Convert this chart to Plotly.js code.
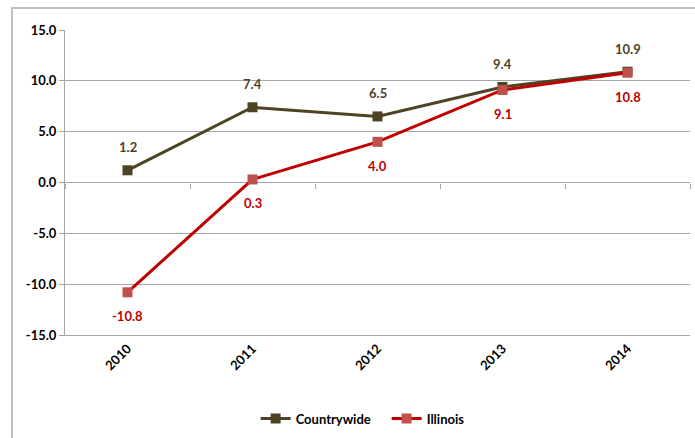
<!DOCTYPE html>
<html>
<head>
<meta charset="utf-8">
<script src="https://cdn.plot.ly/plotly-3.0.1.min.js"></script>
<style>
  html, body { margin: 0; padding: 0; background: #fff; }
  #wrap { position: relative; width: 695px; height: 438px; overflow: hidden; }
  #chart { width: 695px; height: 438px; }
  #frame { position: absolute; left: 11px; top: 7px; right: -5px; bottom: -5px;
           border-left: 2px solid #BFBFBF; border-top: 2px solid #BFBFBF; pointer-events: none; }
</style>
</head>
<body>
<div id="wrap">
  <div id="chart"></div>
  <div id="frame"></div>
</div>
<script>
const years = ['2010', '2011', '2012', '2013', '2014'];
const countrywide = [1.2, 7.4, 6.5, 9.4, 10.9];
const illinois = [-10.8, 0.3, 4.0, 9.1, 10.8];
const yTicks = [-15, -10, -5, 0, 5, 10, 15];

const FONT = 'Lato, "Liberation Sans", Arial, sans-serif';
const CW_COLOR = '#4F4325';
const IL_LINE = '#C00000';
const IL_MARK = '#C0504D';
const GRID = '#A6A6A6';

const traces = [
  {
    x: years, y: countrywide, name: 'Countrywide', type: 'scatter', mode: 'lines+markers',
    line: { color: CW_COLOR, width: 3 },
    marker: { symbol: 'square', size: 10, color: CW_COLOR },
    hoverinfo: 'skip'
  },
  {
    x: years, y: illinois, name: 'Illinois', type: 'scatter', mode: 'lines+markers',
    line: { color: IL_LINE, width: 3 },
    marker: { symbol: 'square', size: 10, color: IL_MARK },
    hoverinfo: 'skip'
  },
  {
    x: years, y: illinois, xaxis: 'x2', yaxis: 'y', type: 'scatter', mode: 'none',
    showlegend: false, hoverinfo: 'skip'
  }
];

const annotations = [];
for (let i = 0; i < years.length; i++) {
  annotations.push({
    x: i, y: countrywide[i], xref: 'x', yref: 'y', text: '<b>' + countrywide[i].toFixed(1) + '</b>',
    showarrow: false, yshift: 23,
    font: { family: FONT, size: 13, color: CW_COLOR }
  });
  annotations.push({
    x: i, y: illinois[i], xref: 'x', yref: 'y', text: '<b>' + illinois[i].toFixed(1) + '</b>',
    showarrow: false, yshift: -24,
    font: { family: FONT, size: 13, color: IL_LINE }
  });
}

const layout = {
  width: 695, height: 438,
  margin: { l: 65, r: 5, t: 30, b: 103, autoexpand: false },
  paper_bgcolor: '#fff', plot_bgcolor: '#fff',
  font: { family: FONT, size: 13, color: '#000' },
  showlegend: true,
  legend: {
    orientation: 'h', x: 0.305, xanchor: 'left', y: -0.225, yanchor: 'top',
    entrywidth: 86, entrywidthmode: 'pixels',
    font: { family: FONT, size: 13, color: '#000', weight: 'bold' }
  },
  xaxis: {
    type: 'category', categoryarray: years, range: [-0.5, 4.5],
    showgrid: false, zeroline: false, showline: true, linecolor: GRID, linewidth: 1,
    ticks: '', tickangle: -45,
    tickfont: { family: FONT, size: 13, color: '#000', weight: 'bold' }
  },
  xaxis2: {
    type: 'category', categoryarray: years, range: [-0.5, 4.5],
    overlaying: 'x', anchor: 'free', position: 0.5, side: 'bottom',
    showgrid: false, zeroline: false, showline: false,
    ticks: 'outside', tickson: 'boundaries', ticklen: 5, tickcolor: GRID, tickwidth: 1,
    showticklabels: false
  },
  yaxis: {
    range: [-15, 15], tickmode: 'array', tickvals: yTicks,
    ticktext: yTicks.map(v => v.toFixed(1)),
    showgrid: true, gridcolor: GRID, gridwidth: 1,
    zeroline: true, zerolinecolor: GRID, zerolinewidth: 1,
    showline: true, linecolor: GRID, linewidth: 1,
    ticks: 'outside', ticklen: 5, tickcolor: GRID,
    tickfont: { family: FONT, size: 13, color: '#000', weight: 'bold' }
  },
  annotations: annotations
};

Plotly.newPlot('chart', traces, layout, { displayModeBar: false, staticPlot: true });
</script>
</body>
</html>
